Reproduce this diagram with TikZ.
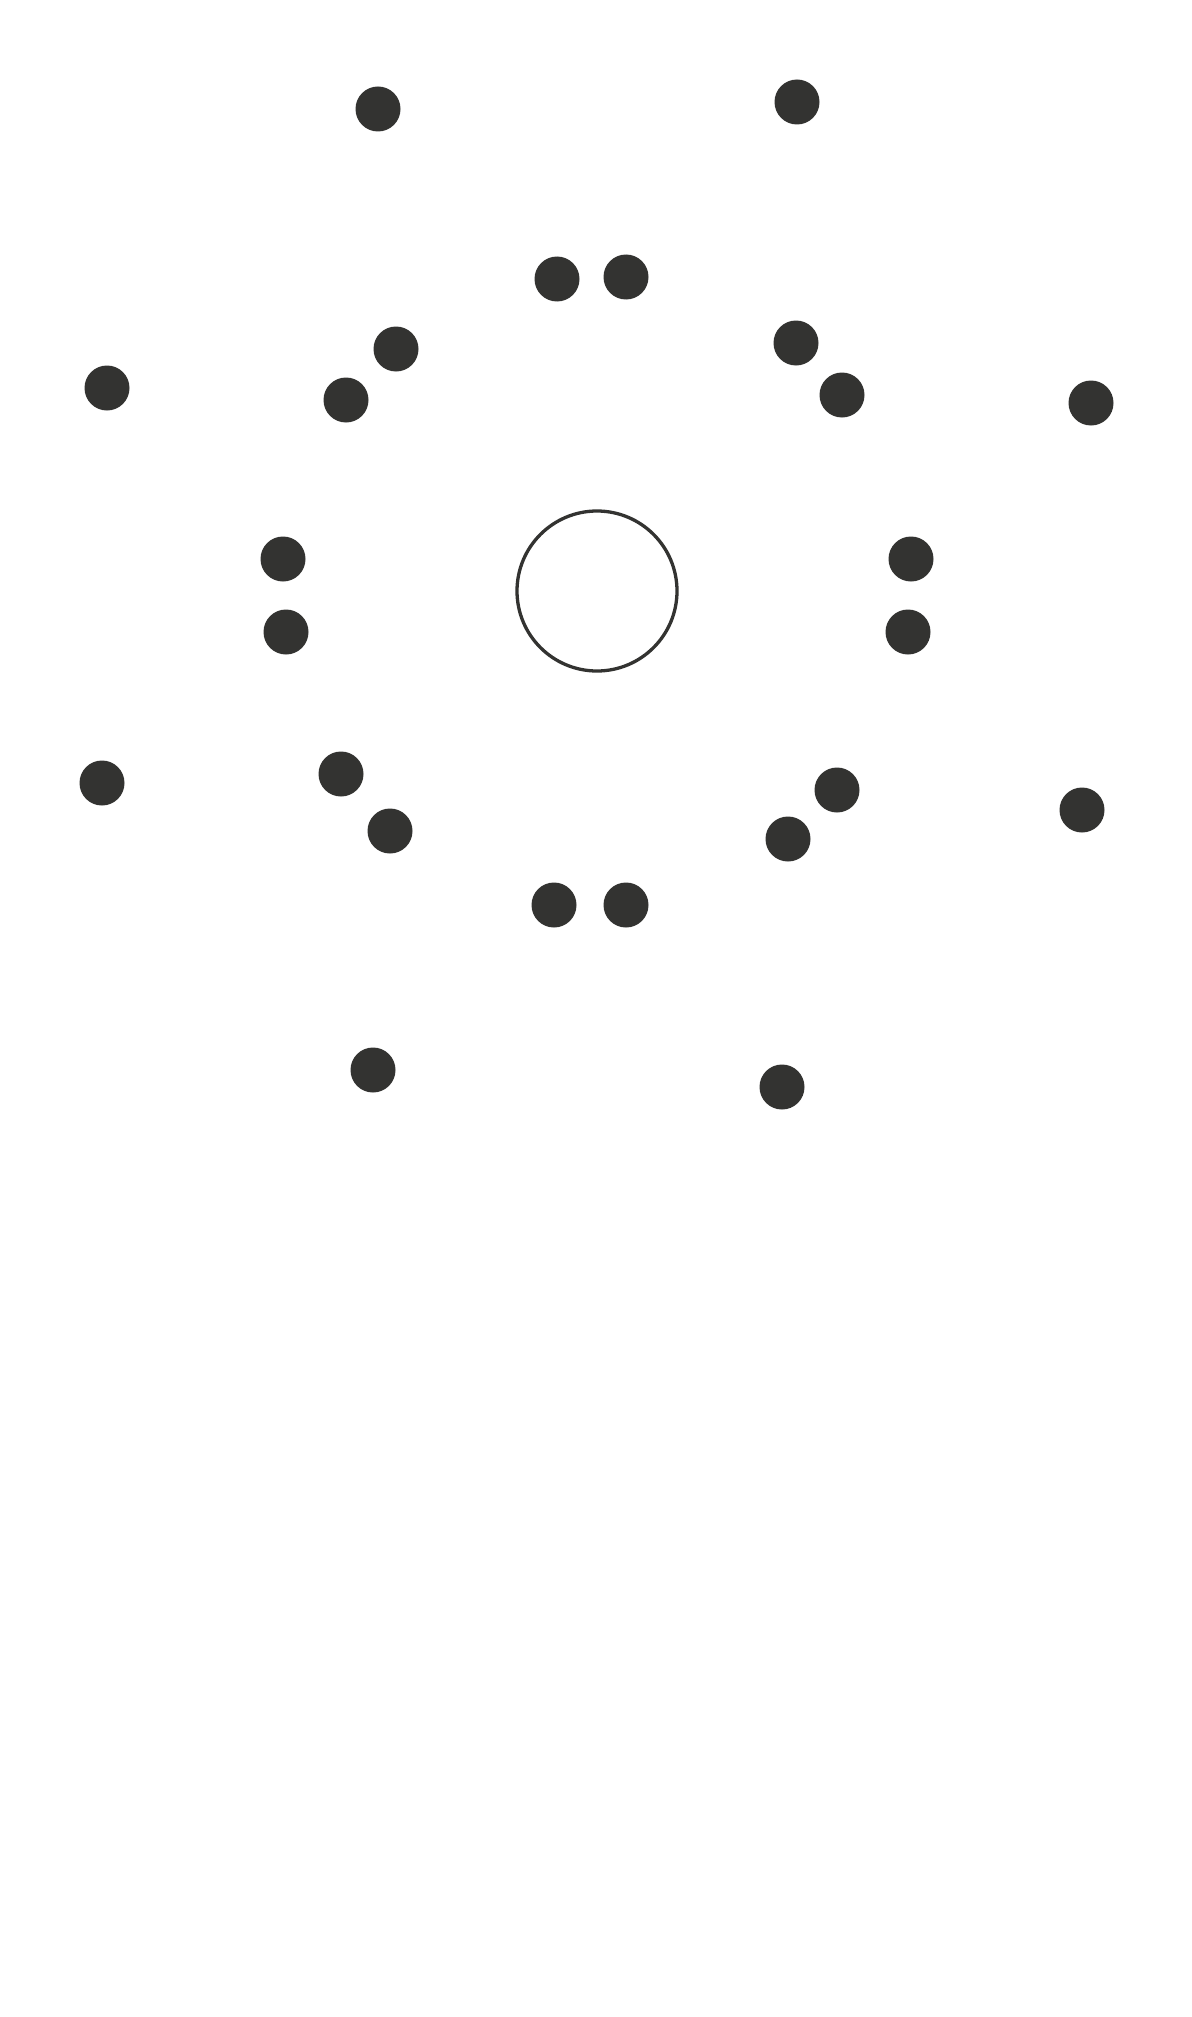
\documentclass[tikz,border=0pt]{standalone}
\definecolor{ink}{RGB}{51,51,49}
\begin{document}
\begin{tikzpicture}[x=0.5pt,y=-0.5pt,
  dot/.style={circle,fill=ink,draw=none,minimum size=22.5pt,inner sep=0pt},
  hub/.style={circle,draw=ink,line width=1.65pt,fill=none,minimum size=80pt,inner sep=0pt}]
\useasboundingbox[fill=white] (0,0) rectangle (1191,2017);
\node[hub] (c) at (597,591) {};
\node[dot] (d1) at (378,109) {};
\node[dot] (d2) at (797,102) {};
\node[dot] (d3) at (557,279) {};
\node[dot] (d4) at (626,277) {};
\node[dot] (d5) at (396,349) {};
\node[dot] (d6) at (346,400) {};
\node[dot] (d7) at (796,343) {};
\node[dot] (d8) at (842,395) {};
\node[dot] (d9) at (107,388) {};
\node[dot] (d10) at (1091,403) {};
\node[dot] (d11) at (283,559) {};
\node[dot] (d12) at (286,632) {};
\node[dot] (d13) at (911,559) {};
\node[dot] (d14) at (908,632) {};
\node[dot] (d15) at (102,783) {};
\node[dot] (d16) at (1082,810) {};
\node[dot] (d17) at (341,774) {};
\node[dot] (d18) at (390,831) {};
\node[dot] (d19) at (837,790) {};
\node[dot] (d20) at (788,839) {};
\node[dot] (d21) at (554,905) {};
\node[dot] (d22) at (626,905) {};
\node[dot] (d23) at (373,1070) {};
\node[dot] (d24) at (782,1087) {};
\end{tikzpicture}
\end{document}
